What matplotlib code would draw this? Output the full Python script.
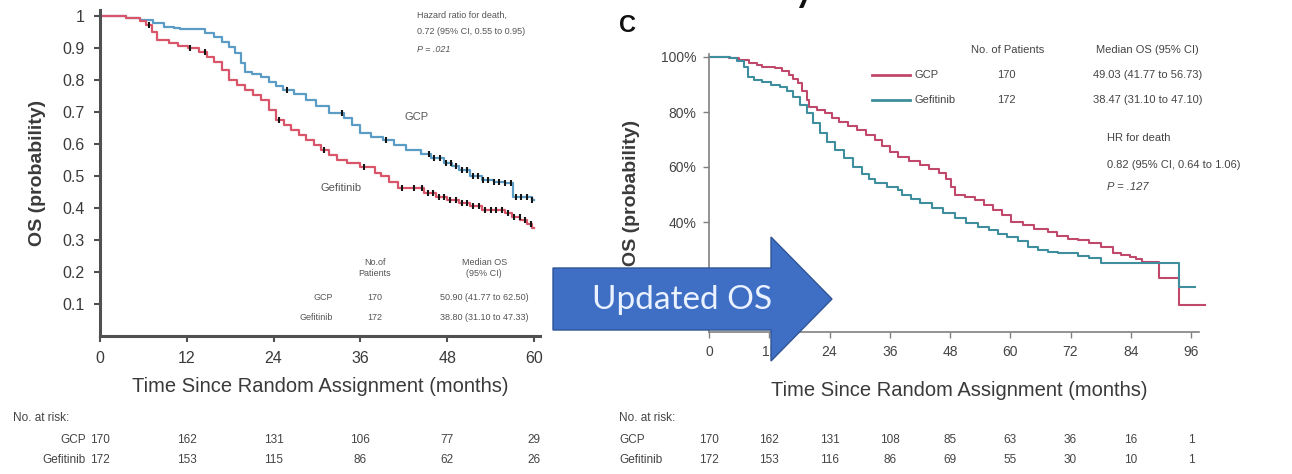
import numpy as np
import matplotlib.pyplot as plt
from matplotlib.patches import FancyArrow
from matplotlib.transforms import blended_transform_factory

plt.rcParams['font.family'] = ['Liberation Sans', 'DejaVu Sans']

# ---- first report (left panel) ----
months_a = [0, 12, 24, 36, 48, 60]
gcp_t_a = [0, 3.6, 5.5, 7.3, 8.9, 10.2, 11.0, 13.4, 14.5, 15.8, 16.8, 17.9, 18.6, 19.5, 20.0,
           21.0, 22.2, 23.4, 24.3, 25.3, 26.8, 28.5, 29.8, 31.7, 33.8, 34.8, 35.9, 37.4, 39.1,
           40.6, 42.3, 44.4, 45.8, 47.5, 48.6, 49.7, 51.2, 52.8, 54.5, 56.0, 57.1, 59.7, 60.0]
gcp_s_a = [1.0, 0.994, 0.988, 0.977, 0.967, 0.962, 0.958, 0.958, 0.947, 0.935, 0.92, 0.904,
           0.885, 0.852, 0.826, 0.818, 0.81, 0.795, 0.782, 0.769, 0.755, 0.738, 0.72, 0.696,
           0.68, 0.66, 0.633, 0.622, 0.612, 0.598, 0.581, 0.57, 0.556, 0.54, 0.53, 0.519, 0.5,
           0.4875, 0.482, 0.477, 0.435, 0.425, 0.425]
gef_t_a = [0, 3.6, 5.5, 6.3, 7.2, 7.9, 9.5, 10.8, 12.1, 13.7, 14.8, 15.8, 16.9, 17.9, 19.0,
           20.0, 21.2, 22.2, 23.3, 24.3, 25.4, 26.4, 27.5, 28.5, 29.6, 30.6, 31.7, 32.7, 34.2,
           35.9, 38.0, 38.8, 40.0, 41.2, 43.3, 44.8, 46.5, 48.0, 49.7, 51.2, 52.8, 56.0, 57.0,
           58.1, 59.0, 59.7, 60.0]
gef_s_a = [1.0, 0.994, 0.985, 0.972, 0.95, 0.925, 0.915, 0.905, 0.899, 0.888, 0.872, 0.857,
           0.83, 0.80, 0.785, 0.769, 0.752, 0.7375, 0.705, 0.675, 0.658, 0.644, 0.628, 0.6125,
           0.596, 0.58, 0.565, 0.55, 0.54, 0.529, 0.508, 0.5, 0.48, 0.4625, 0.4625, 0.448,
           0.435, 0.425, 0.415, 0.405, 0.394, 0.383, 0.372, 0.3625, 0.35, 0.3375, 0.3375]
gcp_cens_a = [25.8, 33.4, 39.5, 45.5, 46.2, 47.0, 47.8, 48.5, 49.2, 50.0, 50.8, 51.6, 52.3,
              53.0, 53.7, 54.5, 55.2, 56.0, 56.8, 57.5, 58.2, 59.0, 59.7]
gef_cens_a = [6.8, 12.5, 14.5, 24.8, 31.0, 36.5, 41.8, 43.4, 44.5, 45.3, 46.0, 46.8, 47.6,
              48.4, 49.2, 50.0, 50.8, 51.6, 52.4, 53.2, 54.0, 54.8, 55.6, 56.4, 57.2, 58.0,
              58.8, 59.6]
risk_gcp_a = [170, 162, 131, 106, 77, 29]
risk_gef_a = [172, 153, 115, 86, 62, 26]

# ---- updated OS (right panel) ----
months_b = [0, 12, 24, 36, 48, 60, 72, 84, 96]
gcp_t_b = [0, 4.0, 6.0, 8.0, 9.5, 10.5, 13.2, 14.5, 15.9, 16.8, 17.7, 18.6, 19.5, 19.9, 21.5,
           23.1, 24.5, 25.9, 27.7, 29.5, 31.3, 33.1, 34.5, 36.0, 37.6, 39.8, 42.1, 43.9, 45.8,
           47.2, 48.2, 49.0, 51.0, 53.0, 54.8, 56.6, 58.4, 60.2, 62.5, 64.7, 67.5, 69.3, 71.5,
           73.5, 75.7, 78.1, 80.5, 82.0, 83.8, 85.0, 86.2, 89.6, 93.6, 98.8]
gcp_s_b = [1.0, 0.995, 0.99, 0.98, 0.972, 0.965, 0.959, 0.948, 0.935, 0.92, 0.904, 0.875,
           0.844, 0.819, 0.807, 0.796, 0.78, 0.765, 0.75, 0.735, 0.716, 0.698, 0.675, 0.655,
           0.637, 0.622, 0.607, 0.592, 0.577, 0.555, 0.528, 0.5, 0.49, 0.48, 0.462, 0.444,
           0.425, 0.401, 0.39, 0.375, 0.365, 0.35, 0.34, 0.335, 0.323, 0.31, 0.286, 0.28,
           0.274, 0.265, 0.256, 0.196, 0.098, 0.098]
gef_t_b = [0, 4.2, 5.5, 6.9, 7.8, 9.0, 10.5, 12.3, 14.1, 15.5, 16.8, 18.2, 19.5, 20.8, 22.2,
           23.6, 25.0, 26.8, 28.6, 30.4, 31.8, 33.1, 35.4, 37.6, 38.5, 40.3, 42.1, 44.4, 46.6,
           49.0, 51.2, 53.5, 55.8, 57.5, 59.4, 61.5, 63.5, 65.5, 67.5, 69.5, 71.6, 73.5, 75.7,
           78.1, 93.6, 96.8]
gef_s_b = [1.0, 0.995, 0.985, 0.965, 0.928, 0.918, 0.91, 0.90, 0.892, 0.875, 0.856, 0.825,
           0.796, 0.76, 0.723, 0.692, 0.662, 0.632, 0.601, 0.575, 0.555, 0.541, 0.528, 0.516,
           0.5, 0.485, 0.469, 0.45, 0.432, 0.414, 0.396, 0.383, 0.371, 0.358, 0.347, 0.33,
           0.31, 0.30, 0.292, 0.289, 0.286, 0.278, 0.268, 0.25, 0.165, 0.165]
risk_gcp_b = [170, 162, 131, 108, 85, 63, 36, 16, 1]
risk_gef_b = [172, 153, 116, 86, 69, 55, 30, 10, 1]

BLUE_A, RED_A = '#5b9cc6', '#d9566a'
RED_B, TEAL_B = '#c0486a', '#3f8e9e'
TXT = '#3a3a3a'

W, H = 1292, 474
fig = plt.figure(figsize=(W / 100, H / 100), dpi=100)


def px_axes(x0, x1, y_top, y_bot):
    return fig.add_axes([x0 / W, 1 - y_bot / H, (x1 - x0) / W, (y_bot - y_top) / H])


def surv_at(t, s, x):
    idx = np.searchsorted(t, x, side='right') - 1
    return np.asarray(s)[idx]


# left panel: 0-60 months over 100..540 px, 0-1.02 over 336..9.6 px
ax1 = px_axes(100, 100 + 60.8 * 7.233, 336 - 1.02 * 320, 336)
ax1.step(gcp_t_a, gcp_s_a, where='post', color=BLUE_A, lw=1.6)
ax1.step(gef_t_a, gef_s_a, where='post', color=RED_A, lw=1.6)
ax1.plot(gcp_cens_a, surv_at(gcp_t_a, gcp_s_a, gcp_cens_a), ls='none', marker='|',
         ms=4.5, mew=1.5, color='#151515')
ax1.plot(gef_cens_a, surv_at(gef_t_a, gef_s_a, gef_cens_a), ls='none', marker='|',
         ms=4.5, mew=1.5, color='#151515')
ax1.set_xlim(0, 60.8)
ax1.set_ylim(0, 1.02)
ax1.set_xticks(months_a)
ax1.set_yticks([0.1, 0.2, 0.3, 0.4, 0.5, 0.6, 0.7, 0.8, 0.9, 1.0])
ax1.set_yticklabels(['0.1', '0.2', '0.3', '0.4', '0.5', '0.6', '0.7', '0.8', '0.9', '1'])
for side in ['top', 'right']:
    ax1.spines[side].set_visible(False)
for side in ['left', 'bottom']:
    ax1.spines[side].set_linewidth(2.2)
    ax1.spines[side].set_color('#505050')
ax1.tick_params(length=4, width=1.5, color='#505050', labelsize=11.5, labelcolor=TXT, pad=7)
ax1.set_ylabel('OS (probability)', fontsize=14, fontweight='bold', color=TXT, labelpad=12)
ax1.set_xlabel('Time Since Random Assignment (months)', fontsize=14.5, color=TXT, labelpad=8)

ax1.text(43.8, 1.003, 'Hazard ratio for death,', fontsize=6.5, color='#555', va='center')
ax1.text(43.8, 0.953, '0.72 (95% CI, 0.55 to 0.95)', fontsize=6.5, color='#555', va='center')
ax1.text(43.8, 0.894, 'P = .021', fontsize=6.5, color='#555', va='center', style='italic')
ax1.text(43.8, 0.684, 'GCP', fontsize=8, color='#555', ha='center', va='center')
ax1.text(33.3, 0.462, 'Gefitinib', fontsize=8, color='#555', ha='center', va='center')
ax1.text(38.0, 0.2125, 'No.of\nPatients', fontsize=6.5, color='#555', ha='center',
         va='center', linespacing=1.3)
ax1.text(53.1, 0.2125, 'Median OS\n(95% CI)', fontsize=6.5, color='#555', ha='center',
         va='center', linespacing=1.3)
for y, name, n, med in [(0.119, 'GCP', 170, '50.90 (41.77 to 62.50)'),
                        (0.059, 'Gefitinib', 172, '38.80 (31.10 to 47.33)')]:
    ax1.text(32.2, y, name, fontsize=6.5, color='#555', ha='right', va='center')
    ax1.text(38.0, y, str(n), fontsize=6.5, color='#555', ha='center', va='center')
    ax1.text(53.1, y, med, fontsize=6.5, color='#555', ha='center', va='center')

# right panel: 0-96 months over 709..1191 px, 0-100% over 332..57 px
ax2 = px_axes(709, 709 + 99.5 * 5.021, 332 - 101 * 2.75, 332)
ax2.step(gcp_t_b, [v * 100 for v in gcp_s_b], where='post', color=RED_B, lw=1.5)
ax2.step(gef_t_b, [v * 100 for v in gef_s_b], where='post', color=TEAL_B, lw=1.5)
ax2.set_xlim(0, 99.5)
ax2.set_ylim(0, 101)
ax2.set_xticks(months_b)
ax2.set_yticks([20, 40, 60, 80, 100])
ax2.set_yticklabels(['20%', '40%', '60%', '80%', '100%'])
for side in ['top', 'right']:
    ax2.spines[side].set_visible(False)
for side in ['left', 'bottom']:
    ax2.spines[side].set_linewidth(1.2)
    ax2.spines[side].set_color('#808080')
ax2.spines['bottom'].set_bounds(0, 97.6)
ax2.tick_params(length=4, width=1.0, color='#808080', labelsize=10, labelcolor='#444', pad=5)
ax2.set_ylabel('OS (probability)', fontsize=14, fontweight='bold', color=TXT, labelpad=15)
ax2.set_xlabel('Time Since Random Assignment (months)', fontsize=14.5, color=TXT, labelpad=16)

ax2.text(59.5, 102.5, 'No. of Patients', fontsize=8, color='#444', ha='center', va='center',
         clip_on=False)
ax2.text(87.4, 102.5, 'Median OS (95% CI)', fontsize=8, color='#444', ha='center',
         va='center', clip_on=False)
for y, col, name, n, med in [(93.5, RED_B, 'GCP', 170, '49.03 (41.77 to 56.73)'),
                             (84.4, TEAL_B, 'Gefitinib', 172, '38.47 (31.10 to 47.10)')]:
    ax2.plot([32.5, 40.1], [y, y], color=col, lw=2)
    ax2.text(41.0, y, name, fontsize=8, color='#444', va='center')
    ax2.text(59.2, y, str(n), fontsize=8, color='#444', ha='center', va='center')
    ax2.text(87.4, y, med, fontsize=8, color='#444', ha='center', va='center')
ax2.text(79.3, 70.5, 'HR for death', fontsize=8, color='#444', va='center')
ax2.text(79.3, 60.7, '0.82 (95% CI, 0.64 to 1.06)', fontsize=8, color='#444', va='center')
ax2.text(79.3, 52.7, 'P = .127', fontsize=8, color='#444', va='center', style='italic')

# pixel overlay for the risk tables, panel letter, title and arrow
ov = fig.add_axes([0, 0, 1, 1])
ov.set_xlim(0, W)
ov.set_ylim(H, 0)
ov.axis('off')

tr1 = blended_transform_factory(ax1.transData, ov.transData)
ov.text(13, 418, 'No. at risk:', fontsize=8.5, color='#444', va='center')
ov.text(86, 440, 'GCP', fontsize=8.5, color='#444', ha='right', va='center')
ov.text(86, 460, 'Gefitinib', fontsize=8.5, color='#444', ha='right', va='center')
for m, a, b in zip(months_a, risk_gcp_a, risk_gef_a):
    ov.text(m, 440, str(a), transform=tr1, fontsize=8.5, color='#444', ha='center', va='center')
    ov.text(m, 460, str(b), transform=tr1, fontsize=8.5, color='#444', ha='center', va='center')

tr2 = blended_transform_factory(ax2.transData, ov.transData)
ov.text(619, 418, 'No. at risk:', fontsize=8.5, color='#444', va='center')
ov.text(619, 440, 'GCP', fontsize=8.5, color='#444', va='center')
ov.text(619, 460, 'Gefitinib', fontsize=8.5, color='#444', va='center')
for m, a, b in zip(months_b, risk_gcp_b, risk_gef_b):
    ov.text(m, 440, str(a), transform=tr2, fontsize=8.5, color='#444', ha='center', va='center')
    ov.text(m, 460, str(b), transform=tr2, fontsize=8.5, color='#444', ha='center', va='center')

ov.text(628, 25, 'C', fontsize=17, fontweight='bold', color='#111', ha='center', va='center')
ov.text(939, -1, 'Miyauchi OS 2022', fontsize=36, family='Lato', color='#111',
        ha='center', va='baseline')

ov.add_patch(FancyArrow(553, 299, 279, 0, width=62, head_width=124, head_length=61,
                        length_includes_head=True, fc='#3f6fc4', ec='#2f5597', lw=1))
ov.text(592, 300, 'Updated OS', fontsize=24, family='Lato', color='#eaf2ff',
        ha='left', va='center')

fig.savefig('out.png', dpi=100)
